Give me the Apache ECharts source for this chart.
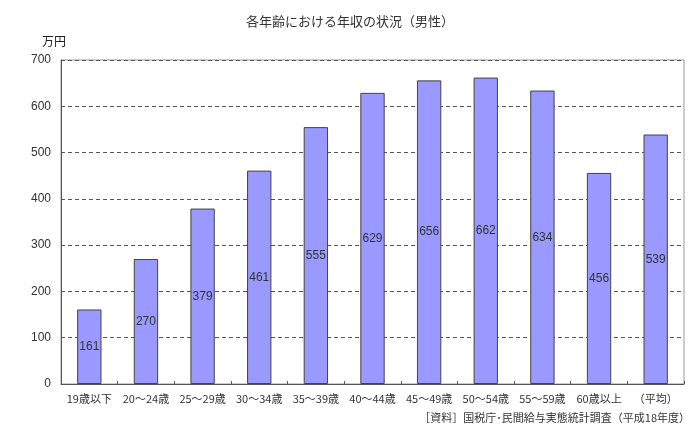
<!DOCTYPE html>
<html><head><meta charset="utf-8">
<script src="https://cdn.jsdelivr.net/npm/echarts@6/dist/echarts.min.js"></script>
<style>html,body{margin:0;padding:0;background:#fff}#c{width:700px;height:436px}</style>
</head><body><div id="c"></div>
<script>
const categories = ['19歳以下','20～24歳','25～29歳','30～34歳','35～39歳','40～44歳','45～49歳','50～54歳','55～59歳','60歳以上','（平均）'];
const values = [161,270,379,461,555,629,656,662,634,456,539];
const yTicks = [0,100,200,300,400,500,600,700];
const titleText = '各年齢における年収の状況（男性）';
const unitText = '万円';
const sourceText = '［資料］国税庁･民間給与実態統計調査（平成18年度）';

const chart = echarts.init(document.getElementById('c'), null, {renderer:'canvas'});
const font = '"Noto Sans CJK JP", sans-serif';
chart.setOption({
  animation:false,
  backgroundColor:'#fff',
  title:{text:titleText,left:'center',top:10,textStyle:{fontSize:13,fontWeight:'normal',color:'#333',fontFamily:font}},
  graphic:[
    {type:'text',left:42,top:35,style:{text:unitText,fontSize:12,fill:'#222',fontFamily:font}},
    {type:'text',right:10,top:412,style:{text:sourceText,fontSize:11,fill:'#333',fontFamily:font}}
  ],
  grid:{left:61,right:16,top:60,bottom:52,show:true,borderColor:'#999',borderWidth:1},
  xAxis:{type:'category',data:categories,
    axisLine:{lineStyle:{color:'#555'}},
    axisTick:{show:true,inside:true,length:3,lineStyle:{color:'#555'}},
    axisLabel:{fontSize:11,color:'#333',fontFamily:font,margin:9,interval:0}},
  yAxis:{type:'value',min:yTicks[0],max:yTicks[yTicks.length-1],interval:100,
    axisLine:{show:true,lineStyle:{color:'#555'}},
    axisTick:{show:false},
    axisLabel:{fontSize:12,color:'#333',fontFamily:'"Liberation Sans", Arial, sans-serif',margin:10},
    splitLine:{lineStyle:{color:'#555',type:[4,3]}}},
  series:[{type:'bar',data:values,barWidth:'43%',
    itemStyle:{color:'#9999ff',borderColor:'#444',borderWidth:1},
    label:{show:true,position:'inside',fontSize:12,color:'#333',fontFamily:'"Liberation Sans", Arial, sans-serif'}}]
});
</script></body></html>
